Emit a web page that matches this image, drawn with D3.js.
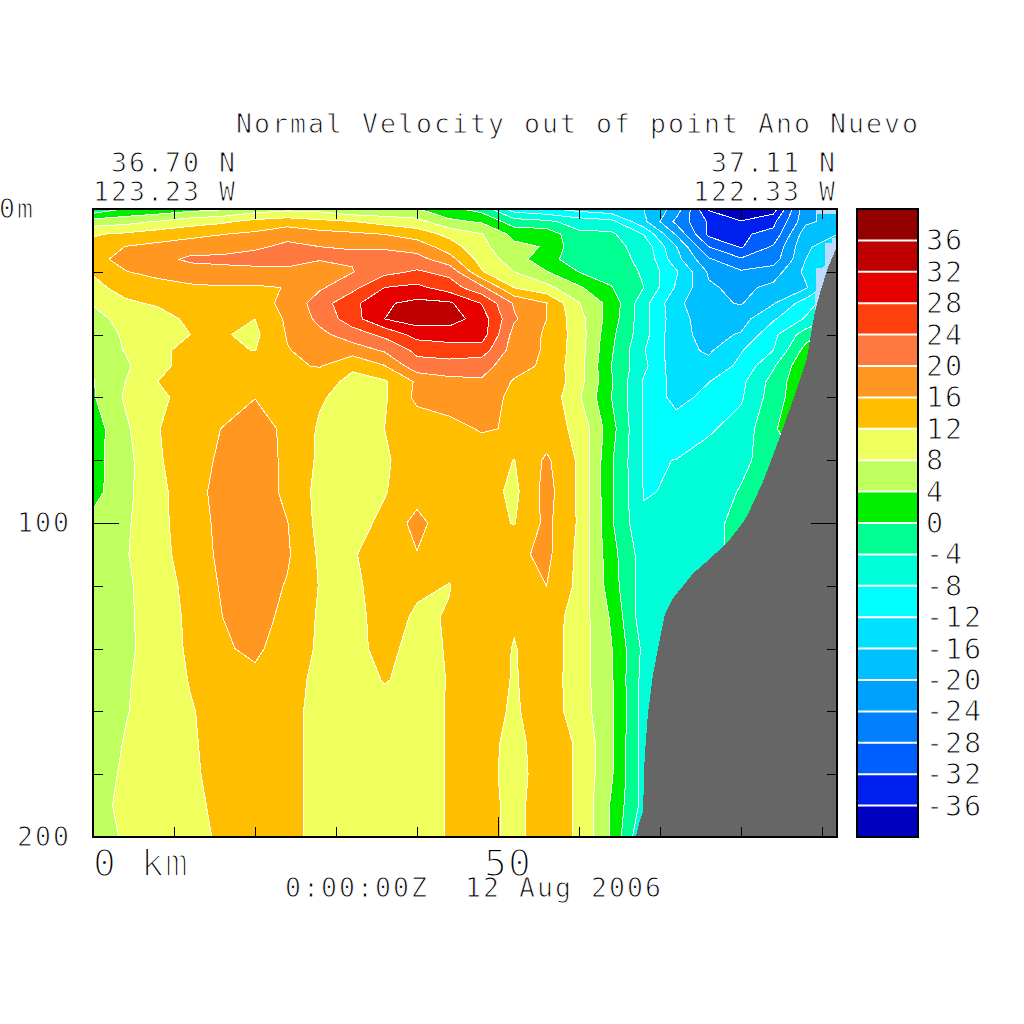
<!DOCTYPE html>
<html><head><meta charset="utf-8">
<script src="https://cdn.jsdelivr.net/npm/d3@7/dist/d3.min.js"></script>
<style>
html,body{margin:0;background:#fff}
svg{display:block}
text{font-family:"DejaVu Sans Mono",monospace;fill:#000;stroke:#fff;paint-order:fill stroke}
</style></head><body>
<svg id="chart" width="1024" height="1024"></svg>
<script>
// distance along the section (km), one entry per grid column
const kmGrid = [0,4,8,12,16,20,24,28,32,36,40,44,48,52,56,60,64,68,72,76,80,84,88,92];
// depth (m), one entry per grid row
const depthGrid = [0,4,8,12,16,20,25,30,35,40,45,50,55,60,70,80,90,100,110,120,130,140,150,160,170,180,190,200];
// normal velocity (cm/s), one row per depth
const velocity = [
[-3,0.3,1.1,2.5,3.5,5.7,6.9,6.5,4.5,4.5,4.2,1,-1.5,-10,-11.5,-13.5,-15,-16,-21.5,-36.5,-41,-38,-21,-18],
[5.8,6.6,8.2,10.2,11.3,13.2,14.2,13,12.1,10.5,9.4,4.9,3.5,-2.2,-3.2,-5.7,-6.8,-15,-25,-32.5,-35.7,-33,-21,-18],
[11.7,12.6,14,14.9,15.9,16.7,18.5,17.3,16.7,15.9,14.2,10.8,8.2,2.8,2.5,-3.2,-3.3,-8.2,-20.5,-33,-32.5,-31,-17.5,-16],
[13,16.1,17,18,18.3,19.2,21,20,19.9,19.7,18.2,14,9,5,3.7,-3.2,-3,-5.2,-15.8,-28,-32.4,-27.5,-16.5,-14],
[14.5,17.5,18.5,20.8,21,22,22.5,20.2,20.3,21,21.5,17.5,10.5,6,1.3,-2,-3,-4.6,-14.5,-23.5,-27.5,-26,-16,-11],
[12.2,15.8,17.5,18,18.7,18.4,18.4,18.3,19.8,22.8,24.5,22.8,12.3,8,4.2,-0.1,-1.5,-4.5,-11.5,-20.5,-23.5,-22,-15,-8],
[11.3,12.9,14,15.4,15.7,15.6,16.1,19.4,22.8,28,29,26,21,11.8,9.2,4.6,0.2,-4,-12.5,-19.5,-21,-19,-16.5,-8],
[8.2,11.6,12.3,13.5,14.5,14.8,16.8,22.2,26.8,31.5,33,32.6,27.8,19.5,16.1,8.2,2.5,-6.5,-15,-19,-20.3,-16.3,-10,-4],
[7,9,11,12.5,12.7,12,16.7,21,26.2,32,34,34,30,20.5,16,9.5,2,-6.5,-14.5,-18,-17.5,-12.5,-7.5,-3],
[6,8.5,10.7,12,12.3,11.2,16.3,19,22,25,29.5,29.5,30,18.5,15.5,10,1,-6.5,-15,-17,-15.7,-9,-2,3],
[5.7,8.2,10.8,13.6,12.6,11.9,15.8,17.5,18,20.5,25,26.5,26,18,15.5,9.8,0.5,-7.7,-14.5,-16.6,-12.3,-8,1.5,3.5],
[4.2,7.3,11.3,13,14,15,15.3,16.3,12.3,15.8,22.5,22,21.5,17.5,15.2,9.5,0,-7,-14.5,-14.8,-11,-4.5,3.5,3.5],
[3.8,8,12,14,14.8,15,13.8,12.8,11.5,11.5,16.6,19,19.5,15.6,15.5,9.5,0.4,-8.5,-13.5,-12.1,-9,-2.5,3.5,3.5],
[3.6,8.5,11.3,13.2,14.5,15.9,13.5,12.4,10.5,11.5,17,17.5,18,15,15,8.5,0,-8.3,-13.5,-10.7,-8.5,-2,3.5,3.5],
[2,7.3,11.8,14.5,16.1,18,15,11.5,10,12,13.5,15,16.3,15.7,13.5,11.2,1.5,-8.5,-9.7,-8.5,-6.5,-0.5,3.5,3.5],
[2.5,6.7,11.5,14.5,16.6,18,15.2,11.3,10,11.5,14,15,14,11.9,16.7,11.4,0.5,-8.3,-7.95,-6.5,-5,-2,1,3],
[2.5,7,10.8,14.5,17.3,18.5,15,10.8,10,11.8,14,14.5,14,11,17.5,11.4,0.5,-8.2,-7.7,-6,-3.7,-2,-2,-2],
[5.2,7.4,10.8,14.2,17,18.5,16.1,10.8,10.8,12.7,17.5,13,13.5,11.8,17,11.5,0.5,-7.5,-7.2,-5,-3,-2,-2,-2],
[5.5,7.7,10.5,14,16.8,18.5,16.5,11.4,11.7,13.5,15.8,13,14,15,17,11,1.5,-6,-7,-5,-3,-2,-2,-2],
[5.5,7.5,9.5,13.5,16.4,18,15.7,11.8,11,14,12.6,11.9,14,13.5,16,11,1.9,-6,-7,-7,-7,-7,-7,-7],
[5.5,7.5,9.3,13,16,17.5,15,11.5,10.8,13.5,11.5,12.2,14,12.4,14,10.3,3.5,-6.5,-7,-7,-7,-7,-7,-7],
[5.5,7.3,9.5,12.7,15.5,16.8,14,11.5,11,13,10.8,12.3,14,11.8,14,10.2,4.2,-5,-6,-7,-7,-7,-7,-7],
[5.5,7.6,9.7,12.2,14,15,13.5,11,9.5,12.3,10.5,12.2,14,11.7,14,10,4.5,-5.5,-6,-7,-7,-7,-7,-7],
[5.5,7.8,9.5,11.7,13.5,14.5,13,11,10,10,11,12.2,13.5,11.5,14,10.2,4.6,-5.5,-6,-7,-7,-7,-7,-7],
[6,8.2,10,11.5,13.5,14,13,11,10,10,11,12.2,13.5,10.8,14,11.5,4.5,-5.5,-6,-7,-7,-7,-7,-7],
[6.5,8.5,10,11.5,13,14,13,11,10,10,11,12.2,13.5,10.5,14,11.5,4.5,-5.5,-6,-7,-7,-7,-7,-7],
[6.5,9,10,11,13,13.5,13,11,10,10,11,12.2,13.5,10.9,14,11.5,3.5,-5.5,-6,-7,-7,-7,-7,-7],
[6,8.5,9.8,11,12.5,13.5,13,11,10,10,11,12.2,13.5,10.9,14,11.5,3.5,-8,-8,-8,-8,-8,-8,-8]
];
// sea floor profile
const bottomKm = [67,67.5,67.9,68.1,68.5,69.1,69.6,70.6,71.6,74.1,75.9,78.4,80.2,80.7,82.7,84.6,86.4,88.1,89.1,89.75,90.7,91.85];
const bottomDepth = [200,195,192,175,161,149,142,129,124,116,112,106,100,98,87,74,61,48,33,26.8,18.8,12];
// pale patches next to the shelf
const paleKm = [89.1,89.3,90.4,90.4,91.2,91.2,91.85,91.85];
const paleDepth = [33,18.9,18.9,10.9,10.9,9.3,9.3,33];
const paleTopKm = [89.3,91.85,91.85,89.3];
const paleTopDepth = [0,0,1.7,1.7];
// contour levels and band colours (lowest band first)
const levels = [-40,-36,-32,-28,-24,-20,-16,-12,-8,-4,0,4,8,12,16,20,24,28,32,36,40];
const bandColors = ["#0000c0","#0020f0","#0060ff","#0080ff","#00a0ff","#00c0ff","#00e0ff","#00ffff","#00ffd8","#00ff90","#00f000","#bfff5e","#eeff5e","#ffbf00","#ff9720","#ff7840","#ff3f0d","#e60000","#bf0000","#930000"];
const legendLabels = [36,32,28,24,20,16,12,8,4,0,-4,-8,-12,-16,-20,-24,-28,-32,-36];
const kmTicks = [10,20,30,40,50,60,70,80,90];
const depthTicks = [20,40,60,80,100,120,140,160,180];

const svg = d3.select("#chart");
const L=93,R=837,T=209,B=837;
const x = d3.scaleLinear().domain([0,10]).range([L,L+81]);
const y = d3.scaleLinear().domain([0,200]).range([T,B]);
const toKm = d3.scaleLinear().domain(kmGrid.map((_,i)=>i+.5)).range(kmGrid).clamp(true);
const toDepth = d3.scaleLinear().domain(depthGrid.map((_,i)=>i+.5)).range(depthGrid).clamp(true);
const nx=kmGrid.length, ny=depthGrid.length;
const flat = velocity.flat();
const contours = d3.contours().size([nx,ny]).smooth(true).thresholds(levels)(flat);
const path = d3.geoPath(d3.geoTransform({point(a,b){this.stream.point(x(toKm(a)),y(toDepth(b)));}}));

svg.append("defs").append("clipPath").attr("id","plot").append("rect").attr("x",L).attr("y",T).attr("width",R-L).attr("height",B-T);
const plot = svg.append("g").attr("clip-path","url(#plot)");
plot.append("rect").attr("x",L).attr("y",T).attr("width",R-L).attr("height",B-T).attr("fill",bandColors[0]);
plot.selectAll("path.band").data(contours.slice(0,-1)).join("path").attr("class","band")
  .attr("d",path).attr("fill",(d,i)=>bandColors[i]).attr("shape-rendering","crispEdges");
plot.selectAll("path.iso").data(contours.slice(1,-1)).join("path").attr("class","iso")
  .attr("d",path).attr("fill","none").attr("stroke","#fff").attr("stroke-width",1).attr("shape-rendering","crispEdges");
const ln = d3.line().x(d=>x(d[0])).y(d=>y(d[1]));
plot.append("path").attr("d",ln(d3.zip(paleKm,paleDepth))+"Z").attr("fill","#bcdcff").attr("shape-rendering","crispEdges");
plot.append("path").attr("d",ln(d3.zip(paleTopKm,paleTopDepth))+"Z").attr("fill","#bcdcff").attr("shape-rendering","crispEdges");
const floor = d3.area().x(d=>x(d[0])).y0(d=>y(d[1])).y1(B);
plot.append("path").attr("d",floor(d3.zip(bottomKm,bottomDepth))).attr("fill","#666666").attr("shape-rendering","crispEdges");

function ticks(axisFn,scale,vals,pos){
  const g = svg.append("g").attr("transform",pos).call(axisFn(scale).tickValues(vals).tickSizeOuter(0).tickFormat(""));
  g.select(".domain").remove();
  g.selectAll(".tick line").attr("stroke","#000").attr("stroke-width",1).attr("shape-rendering","crispEdges");
  return g;
}
ticks(d3.axisTop,x,kmTicks,`translate(0,${T})`).selectAll(".tick line").attr("y2",d=>d===50?20:10);
ticks(d3.axisBottom,x,kmTicks,`translate(0,${B})`).selectAll(".tick line").attr("y2",d=>d===50?-20:-10);
ticks(d3.axisLeft,y,depthTicks,`translate(${L},0)`).selectAll(".tick line").attr("x2",d=>d===100?26:10);
ticks(d3.axisRight,y,depthTicks,`translate(${R},0)`).selectAll(".tick line").attr("x2",d=>d===100?-26:-10);
svg.append("rect").attr("x",L).attr("y",T).attr("width",R-L).attr("height",B-T).attr("fill","none").attr("stroke","#000").attr("stroke-width",2);

// colour bar
const barL=857,barR=918;
const barY = d3.scaleLinear().domain([40,-40]).range([T,B]);
const bar = svg.append("g");
bar.selectAll("rect").data(bandColors).join("rect").attr("x",barL).attr("width",barR-barL)
  .attr("y",(c,i)=>barY(levels[i+1])).attr("height",(c,i)=>barY(levels[i])-barY(levels[i+1])).attr("fill",c=>c);
bar.selectAll("line").data(legendLabels).join("line").attr("x1",barL).attr("x2",barR)
  .attr("y1",d=>barY(d)).attr("y2",d=>barY(d)).attr("stroke","#fff").attr("stroke-width",2);
svg.append("rect").attr("x",barL).attr("y",T).attr("width",barR-barL).attr("height",B-T).attr("fill","none").attr("stroke","#000").attr("stroke-width",2);

function label(s,x0,base,adv,size,thin){
  const chars=[...s];
  svg.append("text").attr("x",chars.map((_,i)=>x0+i*adv).join(" ")).attr("y",base).attr("font-size",size)
    .style("stroke-width",thin+"px").style("white-space","pre").text(s);
}
const plain=26.5, big=38;
label("Normal Velocity out of point Ano Nuevo",236,133,18,plain,.95);
label("36.70 N",111,172,18,plain,.95);
label("123.23 W",93,201,18,plain,.95);
label("37.11 N",711,172,18,plain,.95);
label("122.33 W",693,201,18,plain,.95);
label("0m",-1,218,18,plain,.95);
label("100",17,532,18,plain,.95);
label("200",17,846,18,plain,.95);
label("0 km",93,876,24,big,1.9);
label("50",484,876,24,big,1.9);
label("0:00:00Z  12 Aug 2006",285,897,18,plain,.95);
legendLabels.forEach(v=>{
  const s=v<0?"-"+(-v):""+v;
  label(s,926,barY(v)+10,19,28.5,1);
});
</script>
</body></html>
